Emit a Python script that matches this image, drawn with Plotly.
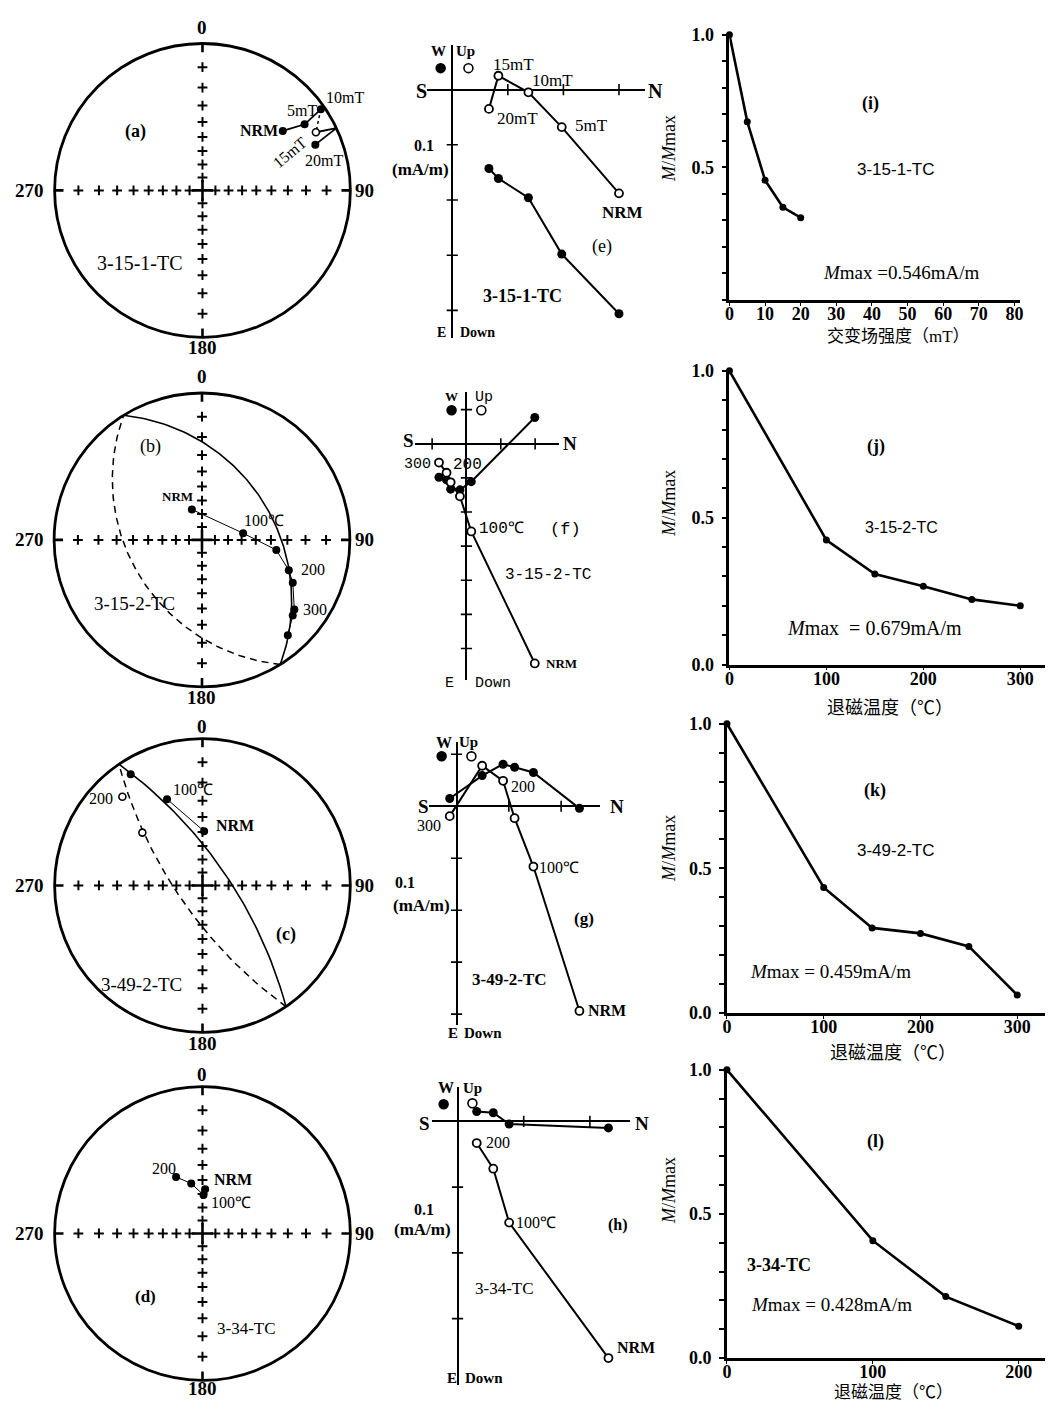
import numpy as np
import plotly.graph_objects as go

W, H = 1049, 1414
SERIF = "Liberation Serif"
SANS = "Liberation Sans"
MONO = "Liberation Mono"
CJK = "Liberation Serif, Noto Sans CJK SC"

# ======================= DATA =======================
# Stereonets: declination / inclination (deg); negative inclination = upper hemisphere (open)
a_steps = ['NRM', '5mT', '10mT', '15mT', '20mT']
a_dec = [53.3, 56.9, 55.4, 62.7, 67.8]
a_inc = [21.8, 11.0, 1.6, -8.4, 11.0]

b_steps = ['NRM', '100', '150', '200', '225', '300', '325', '350']
b_dec = [341.7, 80.7, 97.8, 109.4, 115.4, 127.2, 130.0, 138.2]
b_inc = [65.4, 58.5, 36.2, 26.2, 21.6, 13.8, 12.6, 7.9]
b_plane = [58.0, 38.0]      # remagnetisation circle: dip direction, dip

c_steps = ['NRM', '100', '150', '200', '250']
c_dec = [1.7, 337.8, 327.3, 318.1, 311.5]
c_inc = [49.5, 25.2, 6.1, -11.9, -33.0]
c_plane = [55.6, 70.7]

d_steps = ['NRM', '100', '150', '200']
d_dec = [3.4, 1.5, 347.4, 335.1]
d_inc = [56.4, 60.6, 51.6, 44.0]

# Zijderveld diagrams: North, East, Down components (mA/m)
e_N = [0.300, 0.197, 0.137, 0.083, 0.066]
e_E = [0.406, 0.298, 0.196, 0.161, 0.143]
e_D = [0.188, 0.068, 0.005, -0.025, 0.035]

f_N = [0.199, 0.014, -0.019, -0.046, -0.058, -0.080]
f_E = [-0.077, 0.111, 0.135, 0.133, 0.106, 0.098]
f_D = [0.644, 0.257, 0.154, 0.113, 0.085, 0.055]

g_N = [0.235, 0.147, 0.111, 0.089, 0.049, -0.013]
g_E = [0.004, -0.065, -0.075, -0.081, -0.059, -0.015]
g_D = [0.394, 0.116, 0.023, -0.049, -0.078, 0.019]

h_N = [0.228, 0.078, 0.054, 0.029]
h_E = [0.010, 0.004, -0.013, -0.015]
h_D = [0.360, 0.154, 0.072, 0.033]

# Normalised intensity decay curves
i_x = [0, 5, 10, 15, 20]
i_y = [1.0, 0.672, 0.451, 0.349, 0.310]
j_x = [0, 100, 150, 200, 250, 300]
j_y = [1.0, 0.424, 0.308, 0.267, 0.222, 0.200]
k_x = [0, 100, 150, 200, 250, 300]
k_y = [1.0, 0.434, 0.294, 0.275, 0.230, 0.062]
l_x = [0, 100, 150, 200]
l_y = [1.0, 0.407, 0.213, 0.110]

net_ticks = [10, 20, 30, 40, 50, 60, 70, 80]   # inclination ticks on the net axes

# ======================= HELPERS =======================
def wulff(dec, inc):
    dec = np.radians(np.asarray(dec, float))
    inc = np.asarray(inc, float)
    r = np.tan(np.radians((90.0 - np.abs(inc)) / 2.0))
    return r * np.sin(dec), r * np.cos(dec)


def plane_arc(dipdir, dip, n=121):
    beta = np.linspace(dipdir - 90, dipdir + 90, n)
    app = np.degrees(np.arctan(np.tan(np.radians(dip)) * np.cos(np.radians(beta - dipdir))))
    lower = wulff(beta, app)
    upper = wulff(beta + 180, app)
    return lower, upper


def dx(p0, p1):
    return [p0 / W, p1 / W]


def dy(top, bottom):
    return [1 - bottom / H, 1 - top / H]


fig = go.Figure()
layout = dict(width=W, height=H, margin=dict(l=0, r=0, t=0, b=0),
              paper_bgcolor='white', plot_bgcolor='rgba(0,0,0,0)', showlegend=False)
anns = []
shapes = []


def T(text, x, y, size=16, bold=False, family=SERIF, angle=0, xanchor='center', yanchor='middle'):
    anns.append(dict(text=(f'<b>{text}</b>' if bold else text), x=x / W, y=1 - y / H,
                     xref='paper', yref='paper', showarrow=False, xanchor=xanchor, yanchor=yanchor,
                     textangle=angle, font=dict(family=family, size=size, color='black')))


def sc(k, **kw):
    kw.setdefault('hoverinfo', 'skip')
    fig.add_trace(go.Scatter(xaxis=f'x{k}', yaxis=f'y{k}', **kw))


def leg_dot(cx, cy, filled, r=4.5):
    shapes.append(dict(type='circle', xref='paper', yref='paper',
                       x0=(cx - r) / W, x1=(cx + r) / W, y0=1 - (cy + r) / H, y1=1 - (cy - r) / H,
                       fillcolor='black' if filled else 'white', line=dict(color='black', width=1.6)))


# ======================= STEREONETS =======================
R = 149.0
PAD = 14.0
nets = [(1, 199.0, 183.0), (2, 198.5, 537.5), (3, 199.0, 888.0), (4, 199.0, 1241.0)]
for k, cx, cy in nets:
    ext = (R + PAD) / R
    layout[f'xaxis{k}'] = dict(domain=dx(cx - R - PAD, cx + R + PAD), range=[-ext, ext], visible=False,
                               anchor=f'y{k}')
    layout[f'yaxis{k}'] = dict(domain=dy(cy - R - PAD, cy + R + PAD), range=[-ext, ext], visible=False,
                               anchor=f'x{k}')
    shapes.append(dict(type='circle', xref=f'x{k}', yref=f'y{k}', x0=-1, x1=1, y0=-1, y1=1,
                       line=dict(color='black', width=2.8)))
    tx, ty = [], []
    for az in (0, 90, 180, 270):
        x, y = wulff([az] * len(net_ticks), net_ticks)
        tx += list(x)
        ty += list(y)
    sc(k, x=tx, y=ty, mode='markers',
       marker=dict(symbol='cross-thin', size=7, line=dict(color='black', width=2)))
    sc(k, x=[0], y=[0], mode='markers',
       marker=dict(symbol='cross-thin', size=15, line=dict(color='black', width=2.6)))
    ex, ey = [], []
    for az in (0, 90, 180, 270):
        x0, y0 = np.sin(np.radians(az)), np.cos(np.radians(az))
        ex += [x0, x0 * 0.94, None]
        ey += [y0, y0 * 0.94, None]
    sc(k, x=ex, y=ey, mode='lines', line=dict(color='black', width=2.6))

# --- (a)
ax_, ay_ = wulff(a_dec, a_inc)
sc(1, x=ax_[:3], y=ay_[:3], mode='lines', line=dict(color='black', width=1.8))
sc(1, x=ax_[2:4], y=ay_[2:4], mode='lines', line=dict(color='black', width=1.5, dash='3px,3px'))
t = abs(a_inc[3]) / (abs(a_inc[3]) + abs(a_inc[4]))
cross_dec = a_dec[3] + t * (a_dec[4] - a_dec[3])
xc, yc = wulff([cross_dec], [0])
sc(1, x=[ax_[3], xc[0], ax_[4]], y=[ay_[3], yc[0], ay_[4]], mode='lines',
   line=dict(color='black', width=1.8))


def net_points(k, dec, inc, size=8):
    x, y = wulff(dec, inc)
    inc = np.asarray(inc)
    dn = inc >= 0
    sc(k, x=x[dn], y=y[dn], mode='markers', marker=dict(color='black', size=size))
    sc(k, x=x[~dn], y=y[~dn], mode='markers',
       marker=dict(color='white', size=size - 1, line=dict(color='black', width=1.6)))


net_points(1, a_dec, a_inc)

# --- (b)
(lx, ly), (ux, uy) = plane_arc(*b_plane)
sc(2, x=lx, y=ly, mode='lines', line=dict(color='black', width=1.6))
sc(2, x=ux, y=uy, mode='lines', line=dict(color='black', width=1.5, dash='7px,5px'))
bx, by = wulff(b_dec, b_inc)
sc(2, x=bx, y=by, mode='lines', line=dict(color='black', width=1.0))
net_points(2, b_dec, b_inc)

# --- (c)
(lx, ly), (ux, uy) = plane_arc(*c_plane)
sc(3, x=lx, y=ly, mode='lines', line=dict(color='black', width=1.6))
sc(3, x=ux, y=uy, mode='lines', line=dict(color='black', width=1.5, dash='7px,5px'))
cx_, cy_ = wulff(c_dec, c_inc)
sc(3, x=cx_[:2], y=cy_[:2], mode='lines', line=dict(color='black', width=1.0))
net_points(3, c_dec, c_inc)

# --- (d)
ddx, ddy = wulff(d_dec, d_inc)
sc(4, x=ddx, y=ddy, mode='lines', line=dict(color='black', width=1.0))
net_points(4, d_dec, d_inc)

# net labels
for (k, cx, cy), lab_top, lab_bot in zip(nets, [18, 372, 727, 1080], [342, 697, 1048, 1398]):
    T('0', cx, lab_top, 19, True)
    T('180', cx, lab_bot, 19, True)
    T('270', 25, cy, 19, True)
    T('90', 362, cy, 19, True)

T('(a)', 132, 123, 18, True)
T('NRM', 277, 122, 16, True, xanchor='right')
T('5mT', 299, 102, 16)
T('10mT', 343, 89, 16)
T('15mT', 287, 145, 16, angle=-40)
T('20mT', 321, 153, 16)
T('3-15-1-TC', 136, 257, 20)

T('(b)', 147, 443, 18)
T('NRM', 174, 493, 13, True)
T('100℃', 261, 518, 16)
T('200', 310, 568, 16)
T('300', 312, 608, 16)
T('3-15-2-TC', 130, 602, 19)

T('100℃', 189, 791, 16)
T('NRM', 232, 827, 16, True)
T('200', 97, 800, 16)
T('(c)', 283, 938, 18, True)
T('3-49-2-TC', 138, 988, 19)

T('200', 160, 1175, 16)
T('NRM', 230, 1186, 16, True)
T('100℃', 228, 1210, 16)
T('(d)', 142, 1305, 17, True)
T('3-34-TC', 243, 1337, 17)

# ======================= ZIJDERVELD =======================
zij = [
    # k, origin x, origin y, px per mA/m, x extent, y extent, N, E, D, hticks, vticks
    (5, 450.7, 80.7, 560.0, (425, 645), (35, 333), e_N, e_E, e_D, [0.1, 0.2, 0.3], [0.1, 0.2, 0.3, 0.4]),
    (6, 465.0, 440.0, 346.0, (413, 558), (387, 680), f_N, f_E, f_D, [-0.1, 0.1, 0.2],
     [-0.1, 0.1, 0.2, 0.3, 0.4, 0.5, 0.6]),
    (7, 455.0, 807.7, 527.0, (427, 600), (742, 1030), g_N, g_E, g_D, [0.1, 0.2], [-0.1, 0.1, 0.2, 0.3, 0.4]),
    (8, 456.0, 1127.3, 667.0, (430, 630), (1092, 1395), h_N, h_E, h_D, [0.1, 0.2], [0.1, 0.2, 0.3]),
]
for k, ox, oy, s, (x0, x1), (y0, y1), N, E, D, ht, vt in zij:
    layout[f'xaxis{k}'] = dict(domain=dx(x0, x1), range=[(x0 - ox) / s, (x1 - ox) / s], anchor=f'y{k}',
                               showgrid=False, showticklabels=False, ticks='', showline=False,
                               zeroline=True, zerolinecolor='black', zerolinewidth=2.2)
    layout[f'yaxis{k}'] = dict(domain=dy(y0, y1), range=[(y1 - oy) / s, (y0 - oy) / s], anchor=f'x{k}',
                               showgrid=False, showticklabels=False, ticks='', showline=False,
                               zeroline=True, zerolinecolor='black', zerolinewidth=2.2)
    sc(k, x=ht, y=[0] * len(ht), mode='markers',
       marker=dict(symbol='line-ns', size=8, line=dict(color='black', width=1.6)))
    sc(k, x=[0] * len(vt), y=vt, mode='markers',
       marker=dict(symbol='line-ew', size=8, line=dict(color='black', width=1.6)))
    sc(k, x=N, y=E, mode='lines+markers', line=dict(color='black', width=2),
       marker=dict(color='black', size=9), cliponaxis=False)
    sc(k, x=N, y=D, mode='lines+markers', line=dict(color='black', width=2),
       marker=dict(color='white', size=8, line=dict(color='black', width=1.8)), cliponaxis=False)

# (e)
T('W', 437, 42, 15, True); T('Up', 464, 42, 15, True)
leg_dot(439, 59, True); leg_dot(467, 59, False)
T('S', 420, 82, 20, True); T('N', 655, 82, 20, True)
T('15mT', 512, 55, 17); T('10mT', 552, 72, 17); T('20mT', 516, 110, 17); T('5mT', 591, 117, 17)
T('NRM', 622, 205, 17, True); T('(e)', 602, 240, 18)
T('3-15-1-TC', 521, 290, 18, True)
T('0.1', 422, 137, 16, True); T('(mA/m)', 419, 162, 17, True)
T('E', 440, 327, 14, True); T('Down', 476, 327, 14, True)

# (f)
T('W', 450, 392, 13, True); T('Up', 483, 393, 15, family=MONO)
leg_dot(450, 406, True); leg_dot(480, 406, False)
T('S', 407, 437, 19, True); T('N', 569, 440, 19, True)
T('300', 416, 461, 15, family=MONO); T('200', 466, 462, 16, family=MONO)
T('100℃', 500, 526, 16, family=MONO)
T('(f)', 565, 527, 17, family=MONO); T('3-15-2-TC', 547, 573, 16, family=MONO)
T('NRM', 561, 663, 13, True)
T('E', 448, 683, 15, family=MONO); T('Down', 492, 683, 15, family=MONO)

# (g)
T('W', 442, 743, 16, True); T('Up', 467, 743, 15, True)
leg_dot(440, 757, True); leg_dot(470, 757, False)
T('S', 422, 808, 19, True); T('N', 617, 808, 19, True)
T('300', 427, 827, 16); T('200', 522, 788, 16); T('100℃', 558, 870, 16)
T('0.1', 403, 885, 16, True); T('(mA/m)', 420, 908, 17, True)
T('(g)', 583, 922, 17, True); T('3-49-2-TC', 508, 983, 17, True)
T('NRM', 607, 1015, 16, True)
T('E', 451, 1038, 15, True); T('Down', 482, 1038, 15, True)

# (h)
T('W', 444, 1093, 16, True); T('Up', 471, 1093, 15, True)
leg_dot(442, 1110, True); leg_dot(471, 1109, False)
T('S', 423, 1129, 19, True); T('N', 642, 1129, 19, True)
T('200', 497, 1149, 16); T('100℃', 535, 1230, 16)
T('0.1', 422, 1217, 16, True); T('(mA/m)', 421, 1237, 17, True)
T('(h)', 618, 1232, 16, True); T('3-34-TC', 503, 1297, 17)
T('NRM', 636, 1357, 16, True)
T('E', 450, 1388, 15, True); T('Down', 483, 1388, 15, True)

# ======================= DECAY CURVES =======================
curves = [
    (9, (730, 1023), [0, 81.6], (25, 294), i_x, i_y, list(range(0, 81, 10)), False),
    (10, (730, 1048), [0, 325.5], (366, 664), j_x, j_y, [0, 100, 200, 300], True),
    (11, (727.5, 1048), [0, 328.7], (724, 1017.3), k_x, k_y, [0, 100, 200, 300], True),
    (12, (727.5, 1048), [0, 218], (1075, 1367.3), l_x, l_y, [0, 100, 200], True),
]
yt = [round(v * 0.1, 1) for v in range(11)]
for k, (x0, x1), xr, (y0, y1), X, Y, xt, show0 in curves:
    ytxt = []
    for v in yt:
        if v in (0.5, 1.0) or (v == 0.0 and show0):
            ytxt.append(f'{v:.1f}')
        else:
            ytxt.append('')
    layout[f'xaxis{k}'] = dict(domain=dx(x0, x1), range=xr, anchor=f'y{k}', showgrid=False, zeroline=False,
                               showline=True, linecolor='black', linewidth=2.6, ticks='outside', ticklen=3,
                               tickwidth=1.4, tickcolor='black', tickvals=xt,
                               ticktext=[str(v) for v in xt], ticklabelstandoff=-7,
                               tickfont=dict(family=SERIF, size=18, color='black', weight='bold'))
    layout[f'yaxis{k}'] = dict(domain=dy(y0, y1), range=[0, 1], anchor=f'x{k}', showgrid=False, zeroline=False,
                               showline=True, linecolor='black', linewidth=2.6, ticks='outside', ticklen=5,
                               tickwidth=1.6, tickcolor='black', tickvals=yt, ticktext=ytxt,
                               ticklabelstandoff=4,
                               tickfont=dict(family=SERIF, size=18, color='black', weight='bold'))
    sc(k, x=X, y=Y, mode='lines+markers', line=dict(color='black', width=2.6),
       marker=dict(color='black', size=7), cliponaxis=False)

MM = '<i>M</i>/<i>M</i>max'
T(MM, 669, 140, 18, angle=-90)
T(MM, 669, 500, 18, angle=-90)
T(MM, 669, 850, 18, angle=-90)
T(MM, 669, 1197, 18, angle=-90)

T('(i)', 872, 95, 18, True)
T('3-15-1-TC', 897, 162, 17, family=SANS)
T('<i>M</i>max =0.546mA/m', 903, 266, 19)
T('交变场强度（mT）', 900, 331, 17, family=CJK)

T('(j)', 878, 443, 18, True)
T('3-15-2-TC', 903, 525, 16, family=SANS)
T('<i>M</i>max  = 0.679mA/m', 876, 627, 20)
T('退磁温度（℃）', 892, 708, 18, family=CJK)

T('(k)', 877, 792, 18, True)
T('3-49-2-TC', 897, 853, 17, family=SANS)
T('<i>M</i>max = 0.459mA/m', 832, 975, 19)
T('退磁温度（℃）', 895, 1058, 18, family=CJK)

T('(l)', 877, 1148, 18, True)
T('3-34-TC', 780, 1273, 18, True)
T('<i>M</i>max = 0.428mA/m', 833, 1313, 19)
T('退磁温度（℃）', 895, 1414, 17, family=CJK, yanchor='bottom')

layout['annotations'] = anns
layout['shapes'] = shapes
fig.update_layout(**layout)
fig.write_html('out.html')
